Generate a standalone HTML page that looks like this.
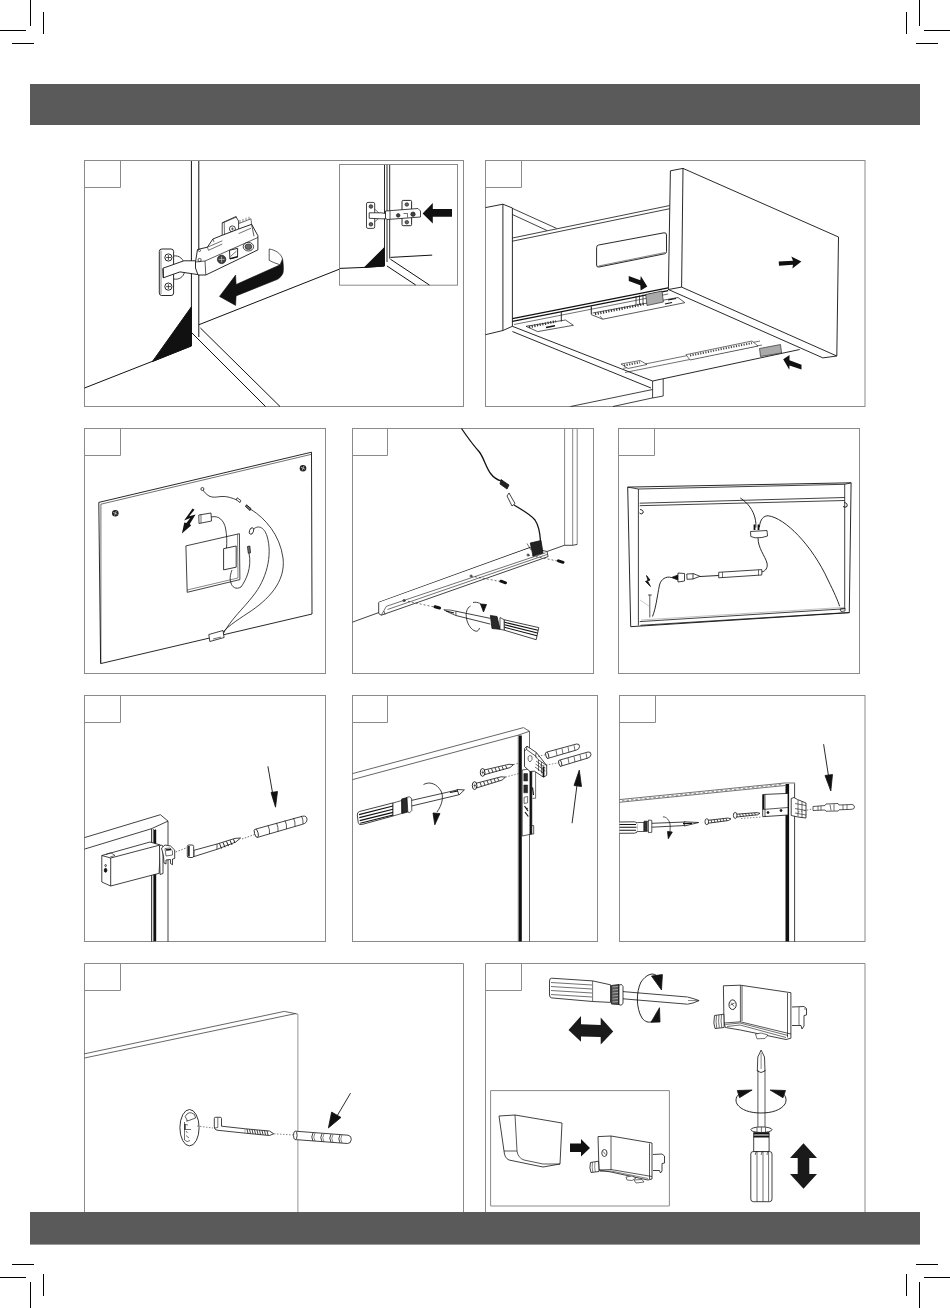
<!DOCTYPE html>
<html><head><meta charset="utf-8"><title>Assembly</title>
<style>
html,body{margin:0;padding:0;background:#fff;width:950px;height:1308px;overflow:hidden;font-family:"Liberation Sans",sans-serif;}
svg{display:block;position:absolute;left:0;top:0;}
</style></head><body>
<svg width="950" height="1308" viewBox="0 0 950 1308">
<!-- crop marks -->
<g stroke="#000" stroke-width="1" fill="none">
<path d="M30.5 0V26M0 30.5H26M43.5 12V34M12 43.5H34"/>
<path d="M919.5 0V26M924 30.5H950M906.5 12V34M916 43.5H938"/>
<path d="M30.5 1308V1282M0 1277.5H26M43.5 1296V1274M12 1264.5H34"/>
<path d="M919.5 1308V1282M924 1277.5H950M906.5 1296V1274M916 1264.5H938"/>
</g>
<!-- header / footer -->
<rect x="30" y="84" width="890" height="41" fill="#5a5a5a"/>
<!-- panels -->
<g stroke="#8a8a8a" stroke-width="1" fill="none">
<rect x="84.5" y="160.5" width="379" height="246"/>
<rect x="485.5" y="160.5" width="379.5" height="246"/>
<rect x="84.5" y="428.5" width="241" height="245"/>
<rect x="352.5" y="428.5" width="241" height="245"/>
<rect x="618.5" y="428.5" width="241" height="245"/>
<rect x="84.5" y="695.5" width="241" height="246"/>
<rect x="352.5" y="695.5" width="245" height="246"/>
<rect x="619.5" y="695.5" width="245.5" height="246"/>
<path d="M84.5 1212V963.5H463.5V1212"/>
<path d="M485.5 1212V963.5H865V1212"/>
<!-- number boxes -->
<path d="M84.5 187.5H120.5V160.5"/>
<path d="M485.5 187.5H521.5V160.5"/>
<path d="M84.5 455.5H120.5V428.5"/>
<path d="M352.5 455.5H387.5V428.5"/>
<path d="M618.5 455.5H654.5V428.5"/>
<path d="M84.5 722.5H120.5V695.5"/>
<path d="M352.5 722.5H387.5V695.5"/>
<path d="M619.5 722.5H655.5V695.5"/>
<path d="M84.5 990.5H120.5V963.5"/>
<path d="M485.5 990.5H521.5V963.5"/>
</g>
<!-- PANEL 1 -->
<g stroke="#111" stroke-width="1" fill="none" stroke-linejoin="round">
<path d="M191.4 161V346M198.8 161V337"/>
<path d="M192 333L265.5 406.5M200.4 328L280 406.5"/>
<path d="M84.5 388L191.4 346"/>
<path d="M199 324.7L339.8 269"/>
<path d="M191.4 306.8L152.4 361.6L191.4 345.8Z" fill="#111"/>
<!-- curved arrow -->
<path d="M280.1 264.8L282.5 258.9C283.6 264.6 283.6 271 282.9 273.2C281 277.6 277.5 279.5 276.3 279.8L236.1 295.9L235.6 305.4L219.5 296.4L235.6 275.1L236.1 284.5Z" fill="#111" stroke-width="0.6"/>
<path d="M269.2 249V260.4C272.5 262 276 263.6 280.1 264.8L282.5 258.9C281 253.5 275.5 250 269.2 249Z" fill="#fff" stroke-width="0.7"/>
<!-- hinge -->
<path d="M173.6 256C179 255 184 259 185 266M173.6 279C179 280 183.5 277 184.5 272" stroke-width="0.8"/>
<rect x="159.3" y="249" width="14.3" height="46.5" rx="2.5" fill="#fff" stroke-width="0.9"/>
<path d="M161 250.5V294" stroke-width="0.5"/>
<circle cx="168.4" cy="257.5" r="3.6" stroke-width="0.9"/>
<circle cx="168.4" cy="286.6" r="3.6" stroke-width="0.9"/>
<path d="M166 257.5H171M168.4 255V260M166 286.6H171M168.4 284.2V289" stroke-width="0.7"/>
<path d="M163 268.2L183.9 260.8L198 260.8L199.4 274.8L180 271.9L163.3 277.8Z" fill="#fff" stroke-width="0.9"/>
<path d="M163 268.5L163.3 277.8" stroke-width="0.9"/>
<path d="M222.2 238V222.8L235.8 216.6L238.6 221V236Z" fill="#fff" stroke-width="0.8"/>
<path d="M224.2 222.3L224.6 237.3M222.4 222.8L224.2 222.3L237 216.8" stroke-width="0.6"/>
<circle cx="232.4" cy="228.9" r="3" stroke-width="0.8"/>
<path d="M230.9 228.9H233.9M232.4 227.4V230.4" stroke-width="0.6"/>
<path d="M195.5 262L197.5 249.5L207.4 247.2L212.9 239L222.4 235.2L238.6 229L251.6 224.3L257.9 235.7V249.9L205.8 275H198L195.5 268Z" fill="#fff" stroke-width="0.9"/>
<path d="M205 261L257.9 237.5M205 261L205.8 275M195.5 262L205 261M251.6 224.3L254 236.3" stroke-width="0.7"/>
<path d="M207.4 247.2L222.3 240.8M238.6 233.6L251 228.2M207.4 247.2L208.5 250.3L222.3 244M212.9 239L214 242" stroke-width="0.6"/>
<path d="M239 223.5L251 218.8L251.6 224.3" stroke-width="0.6"/>
<path d="M240 222.9V220M243 221.7V218.9M246 220.5V217.8M249 219.4V216.8" stroke-width="0.5"/>
<circle cx="221.6" cy="259.4" r="4.2" fill="#444" stroke-width="0.7"/>
<path d="M218.7 259.4H224.5M221.6 256.5V262.3" stroke="#ccc" stroke-width="0.7"/>
<ellipse cx="248.4" cy="246.7" rx="5.2" ry="4.3" fill="#fff" stroke-width="0.8"/>
<ellipse cx="248.4" cy="246.7" rx="3.4" ry="2.8" fill="#666" stroke-width="0.6"/>
<path d="M229.5 250.3L237.6 248.3V257L229.9 259Z" fill="#fff" stroke-width="0.9"/>
<path d="M230.5 256.5L236.5 251" stroke-width="0.6"/>
<path d="M230 258.6L237.6 256.6" stroke-width="1.2"/>
<circle cx="199.6" cy="260" r="1.6" stroke-width="0.7"/>
<circle cx="199.5" cy="250.5" r="1.1" stroke-width="0.6"/>
</g>
<!-- inset 1 -->
<g stroke="#111" stroke-width="1" fill="none">
<rect x="339.5" y="164.5" width="118" height="120.7" stroke="#8a8a8a"/>
<path d="M384.5 165V266M389.7 165V258.6M387 165V262" stroke-width="0.9"/>
<path d="M339.8 268.4L364.4 267.4L384.3 266"/>
<path d="M390.4 257.4L432.2 255.1"/>
<path d="M387 266L415.7 285M390.4 259.2L429.4 285"/>
<path d="M364.4 267.4L384.3 247.6L384.3 266Z" fill="#111"/>
<path d="M422.6 213.4L432.8 203.1V209H452V216.8H432.8V223.6Z" fill="#111" stroke="none"/>
<rect x="366.5" y="202.4" width="8.2" height="26" rx="1.5" fill="#fff" stroke-width="0.8"/>
<circle cx="370.9" cy="206.5" r="1.8" fill="#666" stroke-width="0.7"/>
<circle cx="370.9" cy="224.3" r="1.8" fill="#666" stroke-width="0.7"/>
<path d="M374.5 209L379 213M374.5 222L379 218" stroke-width="0.6"/>
<path d="M369.2 212.8H381L386 213.5V218.8H381L369.2 218.3Z" fill="#fff" stroke-width="0.8"/>
<rect x="402" y="200.4" width="9.6" height="25.3" rx="1.2" fill="#fff" stroke-width="0.9"/>
<path d="M385.5 211L418 208.5L420.5 211V217L387 219.5L385.5 218Z" fill="#fff" stroke-width="0.8"/>
<path d="M390 211V219" stroke-width="0.7"/>
<circle cx="398.2" cy="215.4" r="1.8" fill="#444" stroke-width="0.6"/>
<circle cx="413" cy="214.2" r="2.2" fill="#444" stroke-width="0.6"/>
<circle cx="406.8" cy="204.5" r="1.8" fill="#666" stroke-width="0.6"/>
<circle cx="406.8" cy="222.2" r="1.8" fill="#666" stroke-width="0.6"/>
<path d="M403.5 213.5H407.5V217.5" stroke-width="0.6"/>
</g>

<!-- PANEL 2 -->
<g stroke="#111" stroke-width="0.9" fill="none" stroke-linejoin="round">
<!-- cabinet side -->
<path d="M485.5 207.6L502.9 204.2L512.4 208M502.9 204.2V330.5M512.4 208V326.3M485.5 334.7L502.9 330.5L512.4 326.3"/>
<path d="M512.4 208.4L556.6 228.4M512.4 214.5L547 230.5" stroke-width="0.8"/>
<!-- drawer left side -->
<path d="M512.4 238L669.8 205.5M512.4 241.2L669.8 208.7" stroke-width="0.8"/>
<path d="M512.4 318.6L668.2 287.8M512.4 321.4L668.2 290.6" stroke-width="1.2"/><path d="M514 324.5L668.2 294" stroke-width="0.6"/>
<path d="M598.6 245L664 232.8Q666.5 232.4 666.5 235V251.4Q666.5 253.4 664.5 253.8L599 267Q596.6 267.5 596.6 265V247.5Q596.6 245.4 598.6 245Z" stroke-width="0.9"/>
<path d="M598.5 266L665 252.5" stroke-width="0.5"/>
<!-- drawer bottom -->
<path d="M512.4 326.3L652.6 381L799.7 349.5M512.4 331.5L651 388" />
<path d="M652.6 381V398M663.2 379V396M652.6 389.5L570.5 406.5M652.6 397.9L613 406.5M652.6 398L663.2 396" stroke-width="0.8"/>
<path d="M623.2 368.4L760 341M625 372.5L762 345" stroke-width="0.6"/>
<!-- runner clips -->
<path d="M621 364L640 360.5L647 364.5L628 368.5Z" fill="#fff" stroke-width="0.6"/>
<path d="M624 365.5L640 362.3" stroke="#444" stroke-width="2.2" stroke-dasharray="1.2 1.4"/>
<path d="M686 354.7L752 341L758 346L690 360Z" fill="#fff" stroke-width="0.6"/>
<path d="M690 355.5L752 343" stroke="#444" stroke-width="2" stroke-dasharray="1.2 1.4"/>
<path d="M526 326.3L565.5 320L573.4 325.3L537.6 331.6Z" fill="#fff" stroke-width="0.7"/>
<path d="M529 327L556 321.3" stroke="#333" stroke-width="2.6" stroke-dasharray="1.2 1.5"/>
<path d="M546 327.5L555 325.8" stroke-width="1.4"/>
<path d="M561.3 312.1V321.5M591.3 306.3V313.7" stroke-width="0.9"/>
<path d="M591.4 307.5V314.7L602.7 319.2L684.8 302.7L678 297.5L592.6 313" fill="#fff" stroke-width="0.7"/>
<path d="M595 314L645 303.8" stroke="#333" stroke-width="2.6" stroke-dasharray="1.2 1.5"/>
<path d="M602.7 319.2L600 316" stroke-width="0.6"/>
<path d="M645.7 294.5L662 291L663.4 302L647 305.5Z" fill="#aaa" stroke-width="0.6"/>
<path d="M636 296V305M639.5 295.3V304.5M643 294.6V303.5" stroke-width="0.7"/>
<path d="M665 304L672 302.5M668 300L676 298.5" stroke-width="1.2"/>
<path d="M511.8 321L554.5 340M510.3 324.2L541.8 340" stroke-width="0" />
<path d="M759.5 348.5L780.5 344.5L781.6 353L760.5 356.5Z" fill="#aaa" stroke-width="0.6"/>
<!-- drawer front -->
<path d="M670.4 170.8L683 168.4L838.5 237L836.8 356L681.6 287.1L668.4 289.5Z" fill="#fff" stroke="none"/><path d="M670.4 170.8L683 168.4L838.5 237L836.8 356L681.6 287.1L683 168.4"/>
<path d="M670.4 170.8L668.4 289.5L681.6 287.1M668.4 289.5L822.9 357.9L836.8 356" />
<path d="M778.7 261.5L793 260.7L791.3 256.4L801.4 261.5L792.4 268.4L793 264.7L779 265.8Z" fill="#111" stroke="none"/>
<path d="M628.7 276.1L640.3 280.3L640.8 275.9L647.3 286.4L640.6 290.5L640.3 285.3L628.8 280.9Z" fill="#111" stroke="none"/>
<path d="M783.2 359.3L789.5 355.1L789.5 360.2L801.5 364.8L801.5 369.4L789.5 365.6L789.3 369.8Z" fill="#111" stroke="none"/>
</g>

<!-- PANEL 3 -->
<g stroke="#111" stroke-width="0.8" fill="none" stroke-linejoin="round">
<path d="M98.8 502.4L311.5 452.2L312 614L100.6 663.6Z" stroke-width="0.9"/>
<path d="M100.9 504.2L311.5 454.3M100.9 504.2V663.2" stroke-width="0.6"/>
<circle cx="115.3" cy="513.3" r="3.3" fill="#222" stroke="none"/><path d="M113.2 512.3L117.4 514.3M114.5 515.5L116.3 511" stroke="#ddd" stroke-width="0.7"/>
<circle cx="303" cy="468.2" r="3.3" fill="#222" stroke="none"/><path d="M300.9 467.2L305.1 469.2M302.2 470.4L304 465.9" stroke="#ddd" stroke-width="0.7"/>
<path d="M185.9 545.9L239.4 533.7L239.9 579.6L187.2 592.3Z"/>
<path d="M237.5 534.2L238 578M187 590L238 578" stroke-width="0.5"/>
<rect x="223.6" y="548.2" width="12.6" height="21.2" fill="#fff" stroke-width="0.8" transform="skewY(-12) translate(0 48)"/>
<path d="M192.6 508.5L194.5 509.8L189.2 516.3L195.6 514.4L189.8 524.1L191.1 525.5L181.9 533.5L184.3 522.4L186.4 523.1L190.3 518L184.1 520.4Z" fill="#111" stroke="none"/>
<path d="M198.8 515L211 513L211.5 521L199 523.5Z" fill="#fff"/>
<path d="M201 514.5V523" stroke-width="0.6"/>
<path d="M211.3 517C219 515 224 521 225.5 528C227 536 227 542 226.5 548" />
<path d="M202.4 489C204 492 206 494 209 496C213 498 216 497 221 496.5C227 496 232 498 237 500" />
<circle cx="202.4" cy="489" r="1.5" fill="#fff"/>
<path d="M237.2 497.8L240.8 500.5L240 502.5L236.3 499.8Z" fill="#fff" stroke-width="0.8"/>
<path d="M246.5 504.8L251 508.6L250 510.5L245.5 506.5Z" fill="#777" stroke-width="0.9"/>
<path d="M251 509.5C265 518 280 535 283 558C286 582 268 600 248 613C236 621 225 628 220 636" />
<path d="M252 530.5C258 524 264 527 267 536C273 556 266 580 253 596C243 609 230 620 222 636" />
<ellipse cx="251.5" cy="531" rx="2" ry="3.4" fill="#fff" transform="rotate(20 251.5 531)"/>
<path d="M247.5 546.5L249.8 546L250.5 552.8L248.3 553.2Z" fill="#777" stroke-width="0.8"/>
<path d="M249 553C252 568 246 580 241 587C236 590 232 587 231 583C229 578 231 573 232 570" />
<path d="M208.8 634.5L223 630.5L224.1 637.5L209.8 641.5Z" fill="#fff"/>
<path d="M213 639L221 637" stroke-width="0.6"/>
</g>

<!-- PANEL 4 -->
<g stroke="#111" stroke-width="0.8" fill="none" stroke-linejoin="round">
<path d="M564.6 429V545.3M572.7 429V545.2M577.2 429V544.4" stroke-width="0.8" stroke="#666"/><path d="M564.6 545.3L572.7 545.3L577.2 544.4" stroke-width="0.8"/>
<path d="M352.5 622.1L378.7 612.6M547 551.5L564.7 545.2" stroke-width="0.8"/>
<!-- profile -->
<path d="M378.7 602.5L530.3 547.7" stroke-width="1.3"/>
<path d="M378.7 602.5V613.5L381.3 615.2L548.1 556.6L547 551.5L530.3 547.7" fill="#fff"/>
<path d="M386.4 606.3L545.6 552.8M387.5 609.5L547 554.5M386.4 606.3L381.3 615.2M384 611L385 614.5" stroke-width="0.6"/>
<circle cx="404" cy="600.5" r="1" /><circle cx="471" cy="576" r="1" /><circle cx="528" cy="555" r="1"/>
<path d="M404 600.5L437.3 607.6M471 576L503.6 582.1M528 555L560.9 561.7" stroke-dasharray="2 2" stroke-width="0.6"/>
<path d="M435 606.8L439.5 608M501 581.2L505.5 582.8M558.5 560.8L563 562.3" stroke-width="3" stroke-linecap="round"/>
<!-- connector block -->
<path d="M530.3 543L541 540.5L543 553L533 556Z" fill="#222"/>
<path d="M527 543.5L531 550" stroke-width="0.6"/>
<!-- wire -->
<path d="M461.5 428.5C468 438 474 446 479.4 452C484 458 486 468 491 474C494 478 498 480 501 481" stroke-width="1.3"/>
<path d="M501 479.5L509 485L507 489L500 484Z" fill="#222"/>
<path d="M509 493L515 503.5L512 506L507 496Z" fill="#fff"/>
<path d="M514 505C522 510 530 514 535 520C539 526 540 533 540.5 541" stroke-width="1.3"/>
<!-- screwdriver -->
<path d="M443.8 609.8L450 610L455.9 611.2L455.9 615.5L450 613Z" fill="#fff" stroke-width="0.7"/>
<path d="M446 611L454 613" stroke-width="1.2"/>
<path d="M455.9 611.2L490.4 618.4M455.9 615.5L490.4 624.1" stroke-width="0.8"/>
<path d="M490.4 615.5L497 616.5L500 629.3L492 628.5Z" fill="#2a2a2a"/>
<path d="M500 617.5L504.3 619.8V630.2L500 629.3Z" fill="#fff" stroke-width="0.7"/>
<path d="M504.3 619.8L538.8 627.6L536.2 639.7L504.3 630.2Z" fill="#fff"/>
<path d="M504.5 622.3L538 630.3M504.5 624.8L537.5 633M504.5 627.3L537 635.8" stroke-width="1.1"/>
<path d="M470.5 606C463 610 466 626 474 630.5C477 632 478.5 631 479.5 628" />
<path d="M473 602.5C478 601.5 482 604 483.5 607" />
<path d="M480.5 604L486.5 604.5L483.5 612Z" fill="#111"/>
</g>

<!-- PANEL 5 -->
<g stroke="#111" stroke-width="0.8" fill="none" stroke-linejoin="round">
<path d="M627.7 487.1L851.1 482.8L849.3 612.7L630.7 626.7Z" stroke-width="0.9"/>
<path d="M638.4 489V625.5M627.7 487.1L638.4 489L844.7 484.3M844.7 484.3V609M851.1 482.8L844.7 484.3" stroke-width="0.8"/>
<path d="M639.7 503.2L844.7 497.5M639.7 505.7L844.7 500.5" stroke-width="0.8"/>
<path d="M639.7 621.6L844.7 608.8M640.5 625.3L849.3 612.5" stroke-width="0.8"/>
<path d="M641 620L845 607.3" stroke="#999" stroke-width="0.6"/>
<path d="M640 509.5Q644 510 643 513Q641 515 639.5 513" stroke-width="0.9"/>
<path d="M844.2 502.5Q848 503 847 506.5Q845 508 843 506.5" stroke-width="0.9"/>
<path d="M840 609L845 608L845 611L841 611.5Z" stroke-width="0.7"/>
<path d="M740.3 498C748 503 753 510 755 518C756 522 756 525 755.8 527.5" stroke-width="0.9"/>
<path d="M759.4 527.3C760 519 764 515.5 768.3 515.8C785 518 812 545 828 580C834 592 838 601 839.6 606.3" stroke-width="0.9"/>
<path d="M754.5 524.5V530M758.5 524.5V530" stroke-width="1.8"/>
<path d="M750.5 531.5L767 530.5L767.5 536L762 537.5L755 537.8L750.8 536.5Z" fill="#fff"/>
<path d="M758 538C758 548 765 556 767 563C768 568 765.5 571 761.8 572" stroke-width="0.9"/>
<path d="M718.7 572.3L761.8 569.6L761.8 575L718.7 577.8Z" fill="#fff"/>
<path d="M722.5 572.1V577.6M758.5 569.8V575.2" stroke-width="0.6"/>
<path d="M718.6 575.5L700 576.5" stroke-width="0.9"/>
<path d="M693 573.5L700 576.3L693 579" fill="#fff"/>
<path d="M686.8 574L693 573.7V579L687 579.3Z" fill="#fff"/>
<path d="M684.5 573.5L678 573L678 582L684.5 581Z" fill="#fff"/>
<path d="M678 575L671.5 577.5L678 580" fill="#111"/>
<path d="M671.5 577.5C666 576 661 579 659.5 585C657 597 656 608 652.5 616.5" stroke-width="0.9"/>
<path d="M646.5 575.5L650 580L647.5 581L650.5 586.5L645.5 581.5L648 580.5Z" fill="#111"/>
<path d="M649.8 594.8V617.5M648 595H651.8" stroke-width="0.7"/>
<path d="M640 600L649 606" stroke="#999" stroke-width="0.5"/>
</g>

<!-- PANEL 6 -->
<g stroke="#111" stroke-width="0.8" fill="none" stroke-linejoin="round">
<path d="M84.5 837.6L160.4 814.7L168 821.1V941.5M84.5 849.1L151.5 828.7L168 821.1M151.5 828.7V941.5M155.3 829V941.5M153.3 829V941.5" stroke-width="0.8"/>
<path d="M155.1 830V941" stroke-width="2.2"/>
<!-- box -->
<path d="M101.8 855.5L150 842L160.4 845L159.1 873.3L110.7 886L101.8 882Z" fill="#fff"/>
<path d="M101.8 855.5L110.7 858L160 845M110.7 858V886" />
<path d="M106 854.3L111 852.8L115 855.5L110.2 857" stroke-width="0.6"/>
<ellipse cx="105.6" cy="870.3" rx="1.3" ry="2" fill="#111"/>
<ellipse cx="105.6" cy="865.5" rx="0.8" ry="1" />
<!-- clip -->
<path d="M159.5 846L161 845L163 846V873.5L160 874.5Z" fill="#fff"/>
<path d="M161.5 848L165 845L170.5 846L174.7 850V858.5L172.5 859V864.7L170.5 863.5V859.5L166 860V864L164 863L163.5 856Z" fill="#fff"/>
<path d="M165 848.5L170 848L172.5 851V855L166 856Z" stroke-width="0.6"/>
<path d="M166 850L171 849.5" stroke-width="1.5"/>
<path d="M175.7 852L186 848" stroke-dasharray="1.5 1.5" stroke-width="0.6"/>
<!-- screw -->
<path d="M193.9 850.3L217 844L235 838.4L240.6 838L235.5 842.2L217 849.3L193.9 856.6Z" fill="#fff"/>
<path d="M217 844V849.3" stroke-width="0.7"/>
<path d="M219.5 843.5L221.5 848.5M223 842.5L225 847.3M226.5 841.4L228.5 846.1M230 840.3L232 844.9M233.5 839.2L235 843" stroke-width="0.9"/>
<rect x="187.3" y="845" width="6.4" height="12.5" rx="1.6" fill="#fff" stroke-width="0.8"/>
<path d="M188.9 846V856.6" stroke-width="1.6"/>
<path d="M242 839L254.5 834.5" stroke-dasharray="1.5 1.5" stroke-width="0.6"/>
<!-- plug -->
<path d="M256 829L302.5 816.2Q307 815.5 307 819.5Q307 823 302.8 824.2L257 837.5" fill="#fff"/>
<ellipse cx="256.3" cy="833.2" rx="1.8" ry="4.3" fill="#fff" transform="rotate(-15 256.3 833.2)"/>
<path d="M268 825.5Q270 829.5 269.5 834M276.5 823Q278.5 827 278 831.5M285 820.5Q287 824.5 286.5 829M293.5 818Q295.5 822 295 826.5M301.5 816Q303.5 820 303 824" stroke-width="0.7"/>
<!-- arrow -->
<path d="M267.9 766.3L273.8 800" stroke-width="0.9"/>
<path d="M271 792.5L277.5 791.5L275.5 807.2Z" fill="#111"/>
</g>

<!-- PANEL 7 -->
<g stroke="#111" stroke-width="0.8" fill="none" stroke-linejoin="round">
<path d="M352.5 773.6L523.5 727.6L529.5 731.3V941.5M352.5 779.6L518.3 735.1L529.5 731.3M518.3 735.1V941.5" stroke-width="0.75" stroke="#333"/>
<rect x="519" y="735.5" width="2.8" height="206" fill="#111" stroke="none"/>
<!-- bracket -->
<path d="M522.2 770L531.8 768.5V834L522.2 836Z" fill="#fff" stroke-width="0.7"/>
<path d="M530.7 769V834.5" stroke-width="2.3"/>
<path d="M523.8 773.6H527.6V781H523.8ZM523.8 785H527.6V792.8H523.8Z" fill="#2a2a2a" stroke-width="0.5"/>
<path d="M524.1 797.3L527.6 796.5V802.8L524.1 803.5Z" stroke-width="0.6"/>
<path d="M524.5 806L528 811M525 812L528.3 816.5M526.5 808L527.5 809" stroke-width="1.2"/>
<path d="M531.8 825.6H533.7V834H531.8" stroke-width="0.7"/>
<path d="M535.6 770.6V798.3H532.5" stroke-width="0.6"/>
<path d="M532.5 787.5L533.5 795" stroke-width="1.2"/>
<path d="M524.5 748.5L527 746.2L536.3 752.5L546.7 765.5V775.3L543.5 777.2L534.5 771.2L530 771.5L524.5 766.5Z" fill="#fff" stroke-width="0.8"/>
<path d="M527 746.2L526.5 749.5L535.5 756L536.3 752.5M526.5 749.5L524.5 751M535.5 756L538 759.5L546.7 765.5" stroke-width="0.7"/>
<path d="M528 757Q529.5 754 532 756.5Q533 760 530 762Q527.5 761 528 757Z" stroke-width="0.6"/>
<path d="M536 761L545.5 768M535.5 764L545.5 771M535 767L544 773.5M538.5 760V771M541.5 762V773.5" stroke-width="0.6"/>
<path d="M543.5 767V777" stroke-width="1.8"/>
<!-- screws -->
<path d="M484 770L509 764.3L513.5 764.6L510 767.6L485 774.5Z" fill="#fff"/>
<path d="M488 769.5L489.5 773.3M491.5 768.7L493 772.4M495 767.9L496.5 771.5M498.5 767.1L500 770.6M502 766.3L503.5 769.7M505.5 765.5L507 768.6" stroke-width="0.8"/>
<ellipse cx="482.6" cy="772.4" rx="2.3" ry="3.9" fill="#fff" stroke-width="0.9"/>
<path d="M481.5 772.4H484M482.8 770.5V774.3" stroke-width="0.6"/>
<path d="M476 783.3L501 776.8L505.5 777.1L502 780.1L477 787.8Z" fill="#fff"/>
<path d="M480 782.4L481.5 786.4M483.5 781.5L485 785.3M487 780.6L488.5 784.3M490.5 779.7L492 783.2M494 778.8L495.5 782.1M497.5 777.9L499 781" stroke-width="0.8"/>
<ellipse cx="474.6" cy="785.6" rx="2.3" ry="3.9" fill="#fff" stroke-width="0.9"/>
<path d="M473.5 785.6H476M474.8 783.7V787.5" stroke-width="0.6"/>
<path d="M513.5 764.6L521 762.5M505.5 777.1L519 773.5M535 757L546 754.6M540 766L559 762.8" stroke-dasharray="1.5 1.5" stroke-width="0.5"/>
<!-- plugs -->
<path d="M547 752L576.5 744Q579.5 743.5 579.5 746.5Q579.5 749 576.5 750L547.5 758.5" fill="#fff"/>
<ellipse cx="547.2" cy="755.3" rx="1.4" ry="3.3" fill="#fff" transform="rotate(-15 547.2 755.3)"/>
<path d="M556 750L557 755.5M562 748.5L563 754M568 747L569 752.3M574 745.3L575 750.5" stroke-width="0.6"/>
<path d="M560 760L588 752Q591 751.5 591 754.5Q591 757 588 758L560.5 766.3" fill="#fff"/>
<ellipse cx="560.2" cy="763.2" rx="1.4" ry="3.3" fill="#fff" transform="rotate(-15 560.2 763.2)"/>
<path d="M568 758L569 763.5M574 756.5L575 762M580 755L581 760.3M586 753.3L587 758.5" stroke-width="0.6"/>
<!-- arrow up -->
<path d="M572.1 823.2L577 785" stroke-width="0.9"/>
<path d="M574 785.5L581.5 786.5L579.3 770.1Z" fill="#111"/>
<!-- screwdriver -->
<path d="M393 802.9L359.5 811.5Q357 812.3 357.3 815L358.2 822.5Q359 825.3 361.5 824.6L393 816Z" fill="#fff"/>
<path d="M359 814.6L393 806M359.3 817.6L393 809.2M359.7 820.6L393 812.4M360.2 823.3L393 815" stroke-width="1.1"/>
<path d="M393 803L401.7 800.5V813.5L393 816Z" fill="#fff" stroke-width="0.7"/>
<path d="M401.7 799L407 797.6L407.8 812L402 813.5Z" fill="#2a2a2a"/>
<path d="M407 797.3L409.5 796.8L411.6 798.5L411.8 810.5L409.5 812.8L407.8 812Z" fill="#fff" stroke-width="0.7"/>
<path d="M411.6 800.4L457.6 789.9M411.6 806L458.8 794.8" stroke-width="0.8"/>
<path d="M457 789.5L464.4 789.9L459 795Z" fill="#fff"/>
<path d="M450 792.5L458 791" stroke-width="1.2"/>
<!-- rotation arrow -->
<path d="M423.5 784.5C430 781 437 784 441 791C444 797 442 805 437 812" stroke-width="0.8"/>
<path d="M433 813L440 813.5L434.8 824.8Z" fill="#111"/>
</g>

<!-- PANEL 8 -->
<g stroke="#111" stroke-width="0.8" fill="none" stroke-linejoin="round">
<path d="M619.5 799.6L784.7 783H795.1M619.5 802.3L785 785.5" stroke-width="0.75" stroke="#444"/>
<path d="M622 801L782 784.4" stroke="#999" stroke-width="1.4" stroke-dasharray="2.5 2"/>
<path d="M787.3 784V941.5" stroke-width="3.6"/>
<path d="M794.6 783.5V941.5" stroke-width="0.8"/>
<!-- bracket box -->
<path d="M762.7 794.5L788 793.4V815L762.7 816.7Z" fill="#fff"/>
<path d="M765 794.5V816.5M762.7 809.5L788 807.5" stroke-width="0.7"/>
<path d="M763.5 795V809" stroke-width="1.6"/>
<circle cx="768" cy="812.5" r="1" fill="#111"/><circle cx="781" cy="810.5" r="1" fill="#111"/>
<!-- right bracket plate -->
<path d="M791.2 798.5L794 797.5L797.5 799.5L806 803V818L798 817L791.2 815.5Z" fill="#fff"/>
<path d="M795 803.5L806 805.5M795 808.5L806 810.5M795 813L806 815M798 800V816.5M802 801.5V817.5" stroke-width="0.6"/>
<!-- plug -->
<path d="M813 806.5L825 805.5L826 804L838 803.5L839 805L852 804.5Q854.5 805 854.5 807Q854.5 809 852 809.3L839 809.8L838 811L826 811.2L825 810L813 810.5Z" fill="#fff" stroke-width="0.7"/>
<path d="M818 806V810.3M821 805.8V810.2M830 804.5L831 810.5M834 804.2V810.6M843 804.8V809.6M847 804.7V809.5" stroke-width="0.6"/>
<path d="M798 812L812 809" stroke-dasharray="1.5 1.5" stroke-width="0.5"/>
<!-- arrow -->
<path d="M823.6 744.2L828.8 778" stroke-width="0.9"/>
<path d="M825 775.5L832.5 774.5L830.8 791Z" fill="#111"/>
<!-- screws -->
<path d="M708 820.3L728 818L731 818.8L728.5 820.5L708.3 823.2Z" fill="#fff"/>
<path d="M711 819.9L712 823M714 819.6L715 822.6M717 819.2L718 822.2M720 818.9L721 821.8M723 818.6L724 821.4M726 818.3L727 821" stroke-width="0.7"/>
<ellipse cx="706.8" cy="821.7" rx="1.8" ry="3" fill="#fff" stroke-width="0.8"/>
<path d="M736.5 814.2L757 812.6L760 813.3L757.5 814.8L736.8 817Z" fill="#fff"/>
<path d="M739.5 813.9L740.5 816.6M742.5 813.7L743.5 816.3M745.5 813.5L746.5 816M748.5 813.2L749.5 815.7M751.5 813L752.5 815.4M754.5 812.8L755.5 815.1" stroke-width="0.7"/>
<ellipse cx="735.2" cy="815.4" rx="1.8" ry="3" fill="#fff" stroke-width="0.8"/>
<path d="M741 818.5L762 817" stroke-dasharray="1.5 1.5" stroke-width="0.5"/>
<!-- screwdriver -->
<path d="M619.5 822L634.5 821.8Q637.5 822 637.5 824.5V830.5Q637.5 833 634.5 833.2L619.5 833.3" fill="#fff"/>
<path d="M619.5 824.5H636M619.5 827.3H636.5M619.5 830.2H636" stroke-width="1.1"/>
<path d="M637.3 822.5H644V831.5H637.3" fill="#fff" stroke-width="0.7"/>
<path d="M644 821.2H647.2V831.4H644Z" fill="#333" stroke-width="0.6"/>
<path d="M648.4 820L651.8 820.4V832.3L648.4 832.7Z" fill="#fff" stroke-width="0.7"/>
<path d="M647.2 821.5H648.4M647.2 831H648.4" stroke-width="0.6"/>
<path d="M651.8 823.3L685.5 822M651.8 827.2L685.5 825.5" stroke-width="0.8"/>
<path d="M684 821.8L698.7 822.5L684.5 826Z" fill="#fff"/>
<path d="M683 823.6L692 823.4" stroke-width="1.3"/>
<path d="M662.9 816.9C666 816.5 670 820 670.2 826L670 832" stroke-width="0.7"/>
<path d="M667.5 831.5L672.3 832L668.3 838.7Z" fill="#111"/>
</g>

<!-- PANEL 9 -->
<g stroke="#111" stroke-width="0.8" fill="none" stroke-linejoin="round">
<path d="M84.5 1053.8L284.3 1011.4L297.7 1014.1M84.5 1058L295.5 1013.6" stroke-width="0.75" stroke="#333"/>
<path d="M297.9 1014.2V1212" stroke="#666" stroke-width="0.7"/>
<!-- disc -->
<ellipse cx="189.5" cy="1127.7" rx="9.6" ry="18.2" fill="#fff" stroke-width="0.85"/>
<path d="M185.2 1116.5Q188.5 1110 194.5 1114.5L195.6 1118L187.5 1121Z" stroke-width="0.7"/>
<path d="M186 1121L187.5 1121" stroke-width="0.6"/>
<path d="M184.5 1122V1140Q187 1143 190 1140.5M185.5 1124.5L188 1125M185.5 1129.5H191M186 1131L187.5 1133M186 1135.5L189 1138" stroke-width="0.6"/>
<path d="M185 1124V1130" stroke-width="1.2"/>
<path d="M197 1126L213 1128" stroke-dasharray="1.5 1.5" stroke-width="0.5"/>
<!-- screw -->
<path d="M214.3 1118.5Q214.3 1117.3 215.5 1117.3H220.3Q221.5 1117.3 221.5 1118.5V1126.2L245.3 1128.8V1133.2L217 1130.2Q214.3 1129.5 214.3 1127Z" fill="#fff"/>
<path d="M217.8 1117.8V1127.5L214.6 1128" stroke-width="0.6"/>
<path d="M245.3 1128.8L269.5 1131L273.7 1133.8L269.5 1135.5L245.3 1133.2" fill="#fff"/>
<path d="M247 1129L248 1133.3M249.5 1129.3L250.5 1133.6M252 1129.5L253 1133.8M254.5 1129.8L255.5 1134M257 1130L258 1134.3M259.5 1130.2L260.5 1134.5M262 1130.4L263 1134.7M264.5 1130.6L265.5 1134.9M267 1130.8L268 1135.1" stroke-width="0.8"/>
<path d="M274 1133.8L294 1135" stroke-dasharray="1.5 1.5" stroke-width="0.5"/>
<!-- plug -->
<path d="M295.5 1131.2L348 1135.2Q351.5 1135.8 351.3 1139.5Q351 1143.5 347.5 1143.5L295.5 1139.6" fill="#fff"/>
<ellipse cx="295.3" cy="1135.4" rx="1.8" ry="4.2" fill="#fff"/>
<path d="M313 1133Q310.5 1137 313 1141M322 1133.6Q319.5 1137.6 322 1141.6M331 1134.2Q328.5 1138.2 331 1142.2M340 1134.8Q337.5 1138.8 340 1142.8" stroke-width="0.8"/>
<path d="M315 1133.1Q312.5 1137 315 1141.1M324 1133.8Q321.5 1137.8 324 1141.8M333 1134.4Q330.5 1138.4 333 1142.4M342 1135Q339.5 1139 342 1143" stroke-width="0.5"/>
<!-- arrow -->
<path d="M350.5 1093.2L337 1116" stroke-width="0.9"/>
<path d="M331.6 1112.1L341 1117.4L328.4 1127.9Z" fill="#111"/>
</g>

<!-- PANEL 10 -->
<g stroke="#111" stroke-width="0.8" fill="none" stroke-linejoin="round">
<!-- horizontal screwdriver -->
<path d="M551.5 978.2L592.6 980.9L610.5 984.8V1002.4L592.6 1001.5L551.5 997.9Q549.5 997.5 549.5 995V981Q549.5 978.2 551.5 978.2Z" fill="#fff"/>
<path d="M551 982.5L592 985M551 986.5L592 989M551 990.5L592 993M551 994.5L592 997M592.6 980.9L592.6 1001.5" stroke-width="0.6"/>
<path d="M611.4 985.5L619 984.5L619 1004.5L611.4 1004Z" fill="#555"/>
<path d="M612.5 987L618 986.5M612.5 990L618 989.5M612.5 993L618 992.5M612.5 996L618 995.5M612.5 999L618 998.5M612.5 1002L618 1001.5" stroke="#ddd" stroke-width="0.6"/>
<path d="M619 985L621.5 984.5L623 986.5V1003.5L621 1005.3L619 1004.5Z" fill="#fff"/>
<path d="M623 991.6L687.5 997M623 998.8L687.5 1004.2" stroke-width="0.8"/>
<path d="M687.5 997L693 998.5L699.1 1000.6L693 1003L687.5 1004.2" fill="#fff"/>
<path d="M688 1000.5L698 1000.6" stroke-width="0.5"/>
<!-- rotation ellipse -->
<path d="M656.5 975.5C652 972 646 975 641 982C636 992 636 1008 642 1018C645 1022 649 1023 652 1021.5" stroke-width="0.9"/>
<path d="M651.5 976L662.4 974.6L661.5 990Z" fill="#111"/>
<path d="M651 1022.3L659.5 1007.7L660 1022Z" fill="#111"/>
<!-- double arrow horizontal -->
<path d="M568.5 1030L581 1016V1024.3L600.7 1025V1017.6L613.2 1031.5L600.7 1044.4V1037L581 1036.4V1041.7Z" fill="#1a1a1a" stroke="none"/>
<!-- box -->
<path d="M723.4 985.8L740.4 985.2L790.9 992.7V1038.2L786 1039.5L740.4 1030L725.5 1027.5L724 1023Z" fill="#fff"/>
<path d="M740.4 985.2V1021.8M724 1023L740.4 1021.8L790.9 1034M787.5 993V1037.5M742 986V1021" stroke-width="0.7"/>
<path d="M725.3 1024.5L740 1023L788 1035.5M727 1026.5L740 1025L786 1037.5" stroke-width="0.6"/>
<ellipse cx="732.6" cy="1004.7" rx="3.6" ry="4.8" fill="#fff" stroke-width="0.9"/>
<path d="M731 1002.5L734 1006.5M730.5 1005L734.5 1003" stroke-width="0.6"/>
<path d="M714.5 1015.5L723.8 1014.2L724.2 1027.5L715 1028.5Q713 1024 714.5 1015.5Z" fill="#fff"/>
<path d="M716.5 1015.5Q715.5 1021.5 716.8 1028M719 1015.2Q718 1021.3 719.3 1027.8M721.5 1014.9Q720.5 1021 721.8 1027.6" stroke-width="0.6"/>
<path d="M792 1007L804 1006.5L806.5 1008.5V1015L804 1015.5V1026L802 1029L801 1025.5H792" fill="#fff"/>
<path d="M799 1007V1025M804 1009H806" stroke-width="0.6"/>
<path d="M755.5 1034L761 1033L768 1035L765 1038.5L757 1038.8Z" fill="#fff" stroke-width="0.6"/>
<!-- vertical screwdriver -->
<path d="M761.1 1050.1L764.5 1057L765 1071L761 1072.5L757.3 1071L757.8 1057Z" fill="#fff"/>
<path d="M761.1 1053V1069" stroke-width="0.5"/>
<path d="M757.9 1070V1127.2M765 1070V1127.2" stroke-width="0.7"/>
<ellipse cx="761.4" cy="1129.7" rx="10.6" ry="2.8" fill="#fff"/>
<path d="M757 1127.5V1132M761.4 1127V1132.5M765.5 1127.5V1132" stroke-width="0.6"/>
<path d="M753.7 1132.5H769.1V1151.6H753.7Z" fill="#fff"/>
<path d="M753.7 1133.6H769.1M753.7 1136.5H769.1" stroke-width="1.8"/>
<path d="M750.8 1154Q750.8 1151.6 753 1151.6H769.8Q772 1151.6 772 1154V1199Q772 1201.7 769.5 1201.7H753.3Q750.8 1201.7 750.8 1199Z" fill="#fff"/>
<path d="M755.3 1155Q755.3 1151.6 757 1151.6V1201.5M761.2 1155Q761.2 1151.6 763 1151.6V1201.5M767 1155Q767 1151.6 768.6 1151.6V1201.5" stroke-width="0.6"/>
<!-- rotation ellipse vertical -->
<path d="M740.5 1093C736 1096 735 1100 737 1104C741 1110 750 1113 761 1113C772 1113 781 1110 785 1104C787 1100 786 1096 782.5 1093" stroke-width="0.9"/>
<path d="M737.3 1090.5L752.1 1090L739.5 1097.7Z" fill="#111"/>
<path d="M770.1 1090L785.5 1090.5L783 1097.7Z" fill="#111"/>
<!-- double arrow vertical -->
<path d="M803.5 1143.3L817 1158H809.3V1174.1H817L803.5 1188.8L790 1174.1H797.7V1158H790Z" fill="#1a1a1a" stroke="none"/>
</g>
<!-- inset 10 -->
<g stroke="#111" stroke-width="0.8" fill="none" stroke-linejoin="round">
<rect x="490.6" y="1090.6" width="178.8" height="115.4" stroke="#8a8a8a" stroke-width="1"/>
<path d="M499 1116L515 1115L562 1123L560 1164L543 1167L509 1160Q504.5 1158 504 1151Z" fill="#fff"/>
<path d="M515 1115L517 1151Q518 1158 524 1160L543 1164L560 1164M504 1151L517 1151" stroke-width="0.7"/>
<path d="M570 1143.5H581V1139L590 1148L581 1156.5V1152H570Z" fill="#111" stroke="none"/>
<path d="M598 1136.6L611 1136L652 1143V1179L648 1180L611 1172L599 1170Z" fill="#fff"/>
<path d="M611 1136V1169.5L652 1176.5M599 1170L611 1169.5M649.5 1143.5V1179" stroke-width="0.7"/>
<path d="M600 1171.5L611 1171L648 1178.5" stroke-width="0.5"/>
<ellipse cx="604.4" cy="1153" rx="2.6" ry="3.5" fill="#fff" stroke-width="0.8"/>
<path d="M603.2 1151.5L605.6 1154.5" stroke-width="0.6"/>
<path d="M590.5 1162.5L598.5 1161.2L599 1171.5L591 1172.5Q589 1168 590.5 1162.5Z" fill="#fff"/>
<path d="M592.5 1162.4Q591.7 1167 592.8 1172.2M595 1162.1Q594.2 1166.8 595.3 1171.9" stroke-width="0.5"/>
<path d="M653 1154.5L662 1154L664.5 1156V1163L662 1163.5V1171L660.5 1173L659.5 1170.5H653" fill="#fff"/>
<path d="M626 1177L632 1176L636 1178L632 1180.5L627 1180Z" fill="#fff" stroke-width="0.6"/>
<path d="M634 1180L642 1179.5L644 1182L636 1183Z" fill="#fff" stroke-width="0.6"/>
</g>

<!--ILLUSTRATIONS-->
<rect x="30" y="1212" width="890" height="32.6" fill="#5a5a5a"/>
</svg>
</body></html>
